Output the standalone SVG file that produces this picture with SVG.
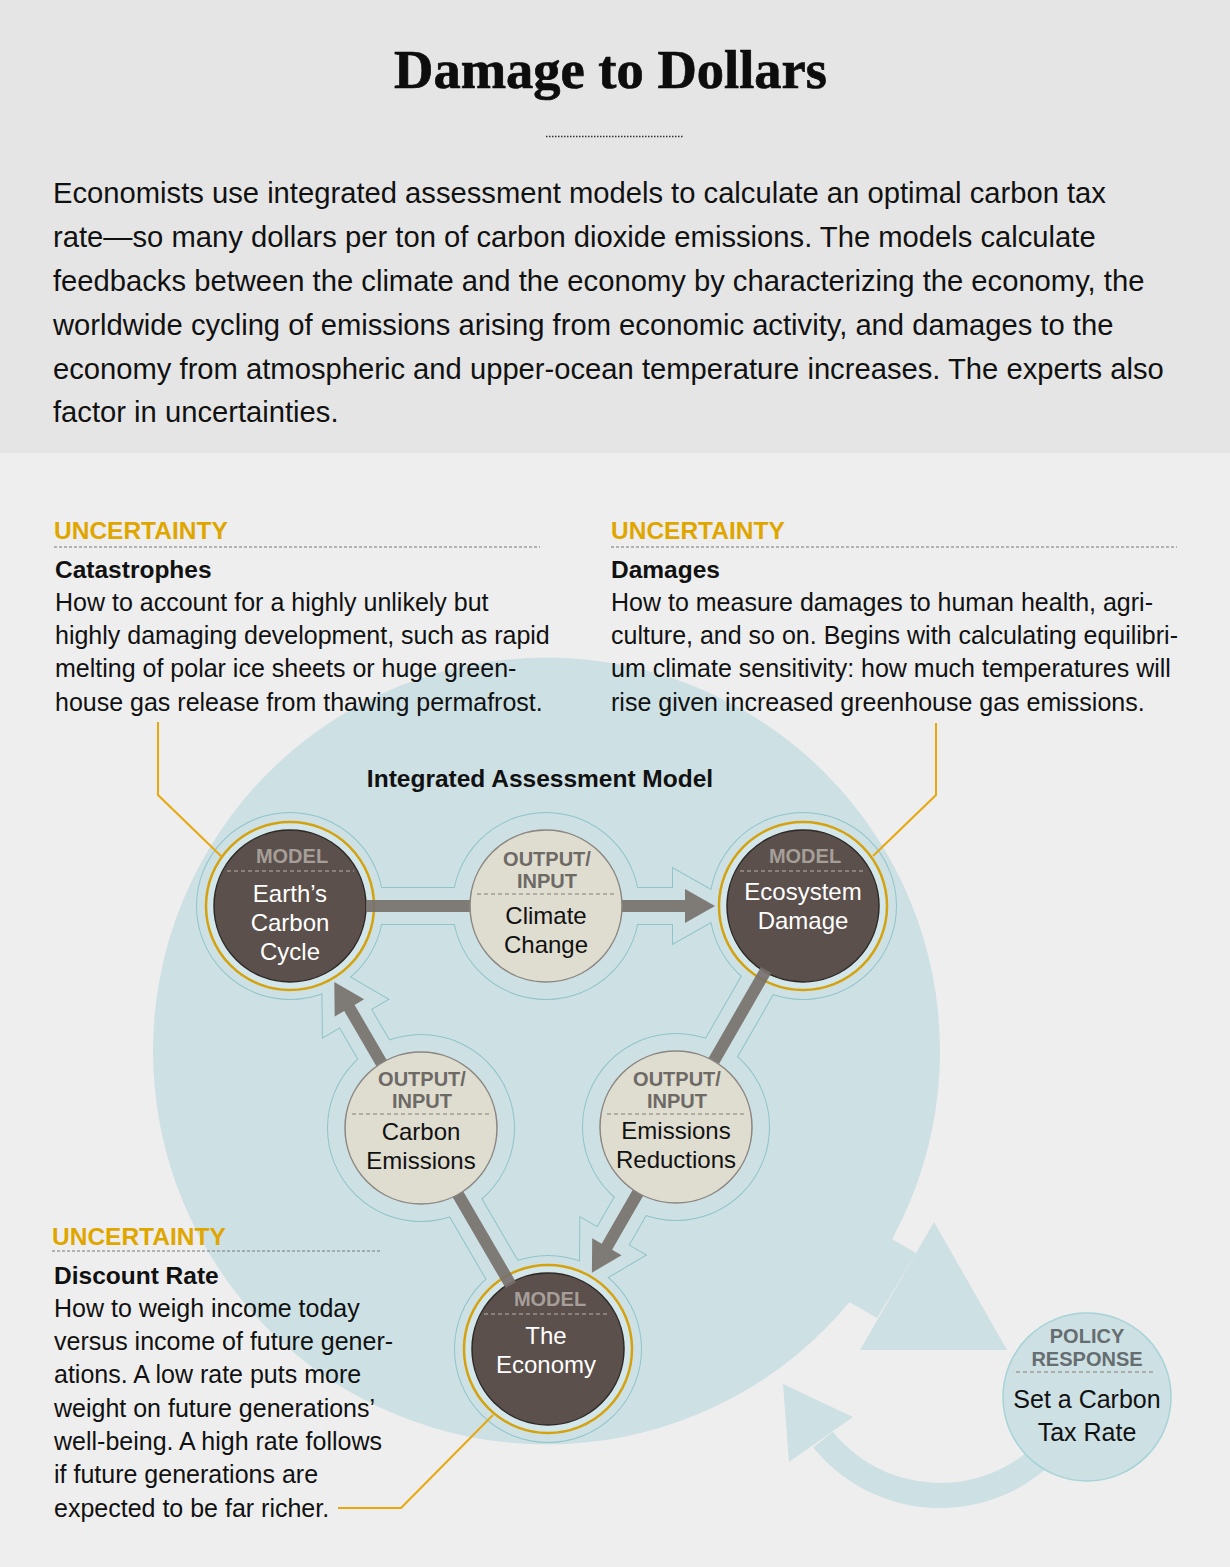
<svg xmlns="http://www.w3.org/2000/svg" xmlns:xlink="http://www.w3.org/1999/xlink" width="1230" height="1567" viewBox="0 0 1230 1567">
<style>
.title{font-family:"Liberation Serif",serif;font-weight:bold;font-size:54.5px;fill:#0d0d0d;stroke:#0d0d0d;stroke-width:0.7}
.intro{font-family:"Liberation Sans",Arial,sans-serif;font-size:29.2px;fill:#111}
.unc{font-family:"Liberation Sans",Arial,sans-serif;font-weight:bold;font-size:24.5px;fill:#e0a600}
.head{font-family:"Liberation Sans",Arial,sans-serif;font-weight:bold;font-size:24.5px;fill:#111}
.body{font-family:"Liberation Sans",Arial,sans-serif;font-size:25px;fill:#111}
.rule{stroke:#777;stroke-width:1;stroke-dasharray:3 2;fill:none}
.leader{stroke:#e8a80c;stroke-width:2;fill:none}
.ring{fill:#d3e7eb;stroke:#d4a20e;stroke-width:2.5}
.dark{fill:#5b504b;stroke:#2f2925;stroke-width:1.5}
.light{fill:#dfdcd0;stroke:#8b8681;stroke-width:1.5}
.lbl-m{font-family:"Liberation Sans",Arial,sans-serif;font-weight:bold;font-size:20px;fill:#a69e99;text-anchor:middle}
.lbl-o{font-family:"Liberation Sans",Arial,sans-serif;font-weight:bold;font-size:20px;fill:#6d6965;text-anchor:middle}
.lbl-p{font-family:"Liberation Sans",Arial,sans-serif;font-weight:bold;font-size:20px;fill:#666d70;text-anchor:middle}
.nt-w{font-family:"Liberation Sans",Arial,sans-serif;font-size:24px;fill:#ffffff;text-anchor:middle}
.nt-b{font-family:"Liberation Sans",Arial,sans-serif;font-size:24px;fill:#111;text-anchor:middle}
.nt-p{font-family:"Liberation Sans",Arial,sans-serif;font-size:25px;fill:#111;text-anchor:middle}
.sep-d{stroke:#9a918b;stroke-width:1.3;stroke-dasharray:4 3}
.sep-l{stroke:#a39d96;stroke-width:1.3;stroke-dasharray:4 3}
.blue{fill:#cde0e4}
.bar{fill:#77716d;opacity:0.92}
</style>
<defs>
<g id="haloShape">
<circle cx="290" cy="906" r="81"/>
<circle cx="546" cy="906" r="81"/>
<circle cx="803" cy="906" r="81"/>
<circle cx="421" cy="1128" r="81"/>
<circle cx="676" cy="1127" r="81"/>
<circle cx="548" cy="1349" r="81"/>
<polygon points="364,900 685,900 685,889 715,906 685,923 685,912 364,912"/>
<polygon points="771.3,973.1 612.1,1249.7 621.6,1255.2 591.9,1272.7 592.2,1238.2 601.7,1243.7 760.9,967.1"/>
<polygon points="516,1282.1 354.6,1004.9 364.1,999.3 334.3,982 334.7,1016.5 344.2,1010.9 505.6,1288.1"/>
</g>
</defs>

<!-- backgrounds -->
<rect x="0" y="0" width="1230" height="1567" fill="#eeeeee"/>
<rect x="0" y="0" width="1230" height="453" fill="#e5e5e5"/>

<g id="header">
<text class="title" x="610.5" y="88" text-anchor="middle">Damage to Dollars</text>
<line x1="546" y1="136.5" x2="683" y2="136.5" stroke="#333" stroke-width="1.5" stroke-dasharray="1.5 1.5"/>
<text class="intro" x="53" y="203">Economists use integrated assessment models to calculate an optimal carbon tax</text>
<text class="intro" x="53" y="247">rate—so many dollars per ton of carbon dioxide emissions. The models calculate</text>
<text class="intro" x="53" y="291">feedbacks between the climate and the economy by characterizing the economy, the</text>
<text class="intro" x="53" y="335">worldwide cycling of emissions arising from economic activity, and damages to the</text>
<text class="intro" x="53" y="379">economy from atmospheric and upper-ocean temperature increases. The experts also</text>
<text class="intro" x="53" y="422">factor in uncertainties.</text>
</g>

<!-- big model circle -->
<g id="model-area">
<circle class="blue" cx="546.5" cy="1051" r="393.5"/>
</g>

<g id="connectors">
<polygon class="blue" points="864,1223 916,1253 877,1318 825,1288"/>
<polygon class="blue" points="934,1222 1007,1350 860,1350"/>
<path class="blue" d="M 1081.2 1426.5 A 163 163 0 0 1 813.3 1447.6 L 832.8 1431.8 A 138 138 0 0 0 1059.5 1414 Z"/>
<polygon class="blue" points="783,1384 853,1417 789,1462"/>
<use xlink:href="#haloShape" href="#haloShape" fill="#8fc4c9" stroke="#8fc4c9" stroke-width="26" stroke-linejoin="miter"/>
<use xlink:href="#haloShape" href="#haloShape" fill="#cde0e4" stroke="#cde0e4" stroke-width="24" stroke-linejoin="miter"/>
</g>

<g id="policy-node">
<circle cx="1087" cy="1397" r="84" fill="#cde0e4" stroke="#a6d3d7" stroke-width="1.5"/>
<text class="lbl-p" x="1087" y="1343">POLICY</text>
<text class="lbl-p" x="1087" y="1366">RESPONSE</text>
<line class="sep-l" x1="1016" y1="1372" x2="1156" y2="1372"/>
<text class="nt-p" x="1087" y="1408">Set a Carbon</text>
<text class="nt-p" x="1087" y="1441">Tax Rate</text>
</g>

<text class="head" x="540" y="787" text-anchor="middle">Integrated Assessment Model</text>

<g id="node-carbon-cycle">
<circle class="ring" cx="290" cy="906" r="84"/>
<circle class="dark" cx="290" cy="906" r="76"/>
<text class="lbl-m" x="292" y="863">MODEL</text>
<line class="sep-d" x1="227" y1="871" x2="354" y2="871"/>
<text class="nt-w" x="290" y="902">Earth’s</text>
<text class="nt-w" x="290" y="931">Carbon</text>
<text class="nt-w" x="290" y="960">Cycle</text>
</g>

<g id="node-ecosystem">
<circle class="ring" cx="803" cy="906" r="84"/>
<circle class="dark" cx="803" cy="906" r="76"/>
<text class="lbl-m" x="805" y="863">MODEL</text>
<line class="sep-d" x1="740" y1="871" x2="866" y2="871"/>
<text class="nt-w" x="803" y="900">Ecosystem</text>
<text class="nt-w" x="803" y="929">Damage</text>
</g>

<g id="node-economy">
<circle class="ring" cx="548" cy="1349" r="84"/>
<circle class="dark" cx="548" cy="1349" r="76"/>
<text class="lbl-m" x="550" y="1306">MODEL</text>
<line class="sep-d" x1="484" y1="1314" x2="610" y2="1314"/>
<text class="nt-w" x="546" y="1344">The</text>
<text class="nt-w" x="546" y="1373">Economy</text>
</g>

<g id="connector-bars">
<polygon class="bar" points="366,900 685,900 685,889 715,906 685,923 685,912 366,912"/>
<polygon class="bar" points="771.3,973.1 612.1,1249.7 621.6,1255.2 591.9,1272.7 592.2,1238.2 601.7,1243.7 760.9,967.1"/>
<polygon class="bar" points="516,1282.1 354.6,1004.9 364.1,999.3 334.3,982 334.7,1016.5 344.2,1010.9 505.6,1288.1"/>
</g>

<g id="node-climate-change">
<circle class="light" cx="546" cy="906" r="76"/>
<text class="lbl-o" x="547" y="866">OUTPUT/</text>
<text class="lbl-o" x="547" y="888">INPUT</text>
<line class="sep-l" x1="477" y1="894" x2="617" y2="894"/>
<text class="nt-b" x="546" y="924">Climate</text>
<text class="nt-b" x="546" y="953">Change</text>
</g>

<g id="node-carbon-emissions">
<circle class="light" cx="421" cy="1128" r="76"/>
<text class="lbl-o" x="422" y="1086">OUTPUT/</text>
<text class="lbl-o" x="422" y="1108">INPUT</text>
<line class="sep-l" x1="352" y1="1114" x2="492" y2="1114"/>
<text class="nt-b" x="421" y="1140">Carbon</text>
<text class="nt-b" x="421" y="1169">Emissions</text>
</g>

<g id="node-emissions-reductions">
<circle class="light" cx="676" cy="1127" r="76"/>
<text class="lbl-o" x="677" y="1086">OUTPUT/</text>
<text class="lbl-o" x="677" y="1108">INPUT</text>
<line class="sep-l" x1="607" y1="1114" x2="747" y2="1114"/>
<text class="nt-b" x="676" y="1139">Emissions</text>
<text class="nt-b" x="676" y="1168">Reductions</text>
</g>

<g id="callout-catastrophes">
<text class="unc" x="54" y="539">UNCERTAINTY</text>
<line class="rule" x1="54" y1="547" x2="540" y2="547"/>
<text class="head" x="55" y="578">Catastrophes</text>
<text class="body" x="55" y="611">How to account for a highly unlikely but</text>
<text class="body" x="55" y="644">highly damaging development, such as rapid</text>
<text class="body" x="55" y="677">melting of polar ice sheets or huge green-</text>
<text class="body" x="55" y="711">house gas release from thawing permafrost.</text>
<polyline class="leader" points="158,722 158,795 222,857"/>
</g>

<g id="callout-damages">
<text class="unc" x="611" y="539">UNCERTAINTY</text>
<line class="rule" x1="611" y1="547" x2="1177" y2="547"/>
<text class="head" x="611" y="578">Damages</text>
<text class="body" x="611" y="611">How to measure damages to human health, agri-</text>
<text class="body" x="611" y="644">culture, and so on. Begins with calculating equilibri-</text>
<text class="body" x="611" y="677">um climate sensitivity: how much temperatures will</text>
<text class="body" x="611" y="711">rise given increased greenhouse gas emissions.</text>
<polyline class="leader" points="936,723 936,795 873,856"/>
</g>

<g id="callout-discount">
<text class="unc" x="52" y="1245">UNCERTAINTY</text>
<line class="rule" x1="52" y1="1251" x2="381" y2="1251"/>
<text class="head" x="54" y="1284">Discount Rate</text>
<text class="body" x="54" y="1317">How to weigh income today</text>
<text class="body" x="54" y="1350">versus income of future gener-</text>
<text class="body" x="54" y="1383">ations. A low rate puts more</text>
<text class="body" x="54" y="1417">weight on future generations’</text>
<text class="body" x="54" y="1450">well-being. A high rate follows</text>
<text class="body" x="54" y="1483">if future generations are</text>
<text class="body" x="54" y="1517">expected to be far richer.</text>
<polyline class="leader" points="338,1508 401,1508 493,1415"/>
</g>
</svg>
